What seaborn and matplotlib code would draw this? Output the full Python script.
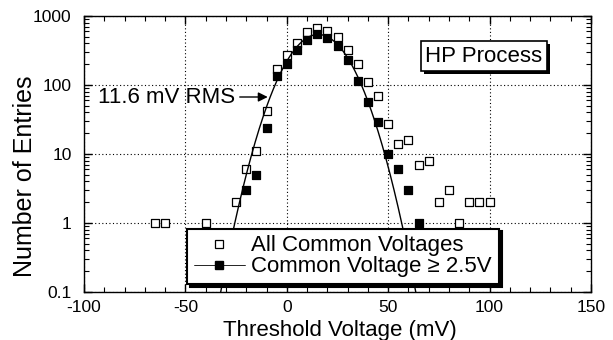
import numpy as np
import pandas as pd
import matplotlib
matplotlib.use("Agg")
import matplotlib.pyplot as plt
import seaborn as sns
from matplotlib import patheffects
from matplotlib.lines import Line2D
from matplotlib.ticker import MultipleLocator, LogLocator, NullFormatter

# ---- data ----
bins_all = [-65, -60, -40, -25, -20, -15, -10, -5, 0, 5, 10, 15, 20, 25, 30, 35,
            40, 45, 50, 55, 60, 65, 70, 75, 80, 85, 90, 95, 100]
counts_all = [1, 1, 1, 2, 6, 11, 42, 172, 270, 408, 590, 661, 610, 499, 319, 204,
              110, 69, 27, 14, 16, 7, 8, 2, 3, 1, 2, 2, 2]
bins_hi = [-20, -15, -10, -5, 0, 5, 10, 15, 20, 25, 30, 35, 40, 45, 50, 55, 60, 65]
counts_hi = [3, 5, 24, 133, 199, 319, 446, 541, 482, 365, 228, 116, 56, 29, 10, 6, 3, 1]

# Gaussian fit parameters (fit to the Common Voltage >= 2.5V sample)
fit_mean = 15.5
fit_rms = 11.6
fit_amp = 540.0

x_ticks = [-100, -50, 0, 50, 100, 150]
y_ticks = [0.1, 1, 10, 100, 1000]
y_ticklabels = ["0.1", "1", "10", "100", "1000"]

label_all = "All Common Voltages"
label_hi = "Common Voltage \u2265 2.5V"

df_all = pd.DataFrame({"v": bins_all, "n": counts_all})
df_hi = pd.DataFrame({"v": bins_hi, "n": counts_hi})
fit_x = np.linspace(-40, 72, 400)
fit_y = fit_amp * np.exp(-0.5 * ((fit_x - fit_mean) / fit_rms) ** 2)
df_fit = pd.DataFrame({"v": fit_x, "n": fit_y})

# ---- style ----
sns.set_style("ticks")
plt.rcParams["font.family"] = ["Liberation Sans", "DejaVu Sans"]
plt.rcParams["axes.edgecolor"] = "black"
plt.rcParams["xtick.color"] = "black"
plt.rcParams["ytick.color"] = "black"
plt.rcParams["text.color"] = "black"
plt.rcParams["axes.labelcolor"] = "black"

W, H = 613, 340
fig = plt.figure(figsize=(W / 100, H / 100), dpi=100)
L, R, T, B = 84, 591, 16, 292
ax = fig.add_axes([L / W, 1 - B / H, (R - L) / W, (B - T) / H])

ax.set_yscale("log")
ax.set_xlim(-100, 150)
ax.set_ylim(0.1, 1000)

sns.scatterplot(data=df_all, x="v", y="n", marker="s", s=40, facecolor="white",
                edgecolor="black", linewidth=0.9, ax=ax, zorder=3, legend=False)
sns.scatterplot(data=df_hi, x="v", y="n", marker="s", s=40, color="black",
                edgecolor="black", linewidth=0.9, ax=ax, zorder=3, legend=False)
sns.lineplot(data=df_fit, x="v", y="n", color="black", linewidth=1.0, ax=ax,
             zorder=4, legend=False)

# ---- axes / ticks ----
ax.set_xticks(x_ticks)
ax.set_xticklabels([str(v) for v in x_ticks])
ax.xaxis.set_minor_locator(MultipleLocator(10))
ax.set_yticks(y_ticks)
ax.set_yticklabels(y_ticklabels)
ax.yaxis.set_minor_locator(LogLocator(base=10, subs=np.arange(2, 10)))
ax.yaxis.set_minor_formatter(NullFormatter())
ax.tick_params(which="both", direction="in", top=True, right=True, labelsize=12.5)
ax.tick_params(which="major", length=6, width=1)
ax.tick_params(which="minor", length=3.5, width=0.8)
ax.tick_params(axis="y", which="major", pad=9)
ax.tick_params(axis="x", which="major", pad=6)
for sp in ax.spines.values():
    sp.set_visible(True)
    sp.set_linewidth(1.0)
    sp.set_color("black")

ax.grid(True, which="major", color="black", linestyle=(0, (1, 2.2)), linewidth=0.8)

ax.set_xlabel("Threshold Voltage (mV)", fontsize=16)
ax.xaxis.set_label_coords(0.505, -0.1)
ax.set_ylabel("Number of Entries", fontsize=18)
ax.yaxis.set_label_coords(-0.093, 0.42)

# ---- annotations ----
ax.annotate("11.6 mV RMS", xy=(-9.4, 67), xytext=(-25.5, 67), textcoords="data",
            ha="right", va="center", fontsize=16, zorder=6,
            arrowprops=dict(arrowstyle="-|>", color="black", lw=1.0, shrinkA=1,
                            shrinkB=0, mutation_scale=14, relpos=(1, 0.5)))

t = ax.text(0.789, 0.855, "HP Process", transform=ax.transAxes, ha="center",
            va="center", fontsize=16, zorder=7,
            bbox=dict(boxstyle="square,pad=0.2", facecolor="white",
                      edgecolor="black", linewidth=1.2))
t.get_bbox_patch().set_path_effects([
    patheffects.SimplePatchShadow(offset=(2.2, -2.2), shadow_rgbFace="black", alpha=1),
    patheffects.Normal()])

# ---- legend ----
h_all = Line2D([], [], linestyle="none", marker="s", markersize=6.3,
               markerfacecolor="white", markeredgecolor="black", markeredgewidth=0.9)
h_hi = Line2D([], [], color="black", linewidth=0.6, marker="s", markersize=6.3,
              markerfacecolor="black", markeredgecolor="black")
leg = ax.legend(handles=[h_all, h_hi], labels=[label_all, label_hi],
                loc="lower left", bbox_to_anchor=((187 - L) / (R - L), (B - 284) / (B - T)),
                borderaxespad=0, frameon=True, fancybox=False, framealpha=1,
                edgecolor="black", fontsize=16, handlelength=2.3, handletextpad=0.3,
                borderpad=0.3, labelspacing=0.0,
                shadow={"facecolor": "black", "edgecolor": "black", "alpha": 1})
leg.get_frame().set_linewidth(1.5)
leg.set_zorder(8)

fig.savefig("out.png", dpi=100, facecolor="white")
